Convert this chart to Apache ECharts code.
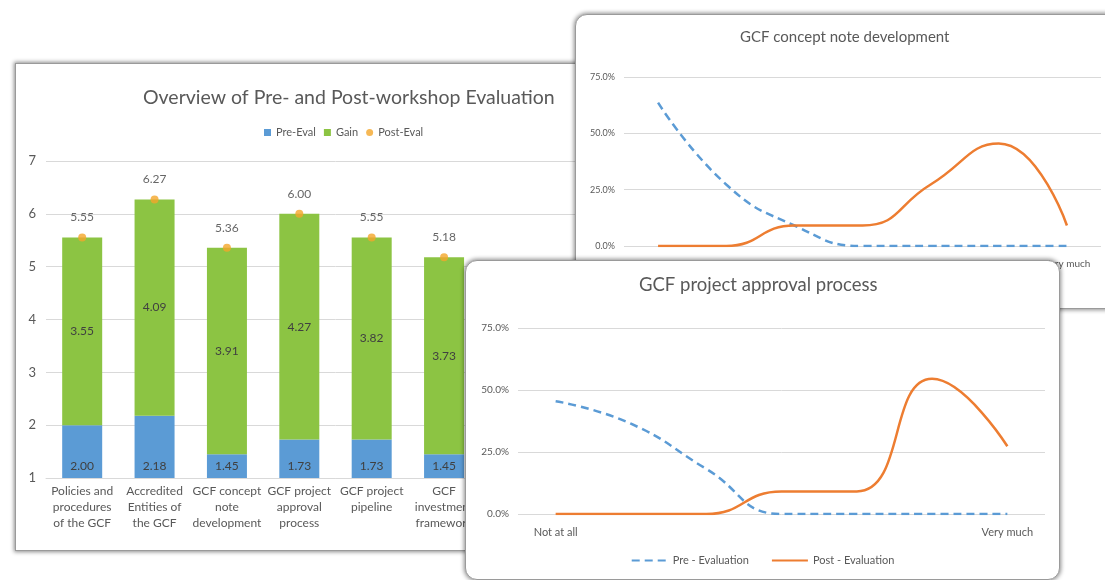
<!DOCTYPE html>
<html>
<head>
<meta charset="utf-8">
<script src="https://cdn.jsdelivr.net/npm/echarts@6/dist/echarts.min.js"></script>
<style>
  html, body { margin: 0; padding: 0; background: #fff; }
  body { width: 1105px; height: 580px; position: relative; overflow: hidden; }
  .panel {
    position: absolute;
    background: #fff;
    border: 1px solid #9a9a9a;
    box-shadow: 0 0 4px 1px rgba(0, 0, 0, 0.45);
    box-sizing: border-box;
  }
  .round { border-radius: 12px; }
</style>
</head>
<body>
<div id="bars" class="panel" style="left:15px;top:63px;width:640px;height:488px;z-index:1"></div>
<div id="concept" class="panel round" style="left:575px;top:14px;width:560px;height:295px;z-index:2"></div>
<div id="approval" class="panel round" style="left:465px;top:260px;width:595px;height:320px;z-index:3"></div>

<script>
// overview bar chart (last two slots are hidden behind the other panels)
const categories = ['Policies and\nprocedures\nof the GCF', 'Accredited\nEntities of\nthe GCF', 'GCF concept\nnote\ndevelopment',
  'GCF project\napproval\nprocess', 'GCF project\npipeline', 'GCF\ninvestment\nframework', '', '']
const preEval = [2.00, 2.18, 1.45, 1.73, 1.73, 1.45, null, null]
const gain = [3.55, 4.09, 3.91, 4.27, 3.82, 3.73, null, null]
const postEval = [5.55, 6.27, 5.36, 6.00, 5.55, 5.18, null, null]
const axisMin = 1

// rating scale, % of respondents
const scaleLabels = ['Not at all', '', '', '', '', '', 'Very much']
const conceptPre = [63.6, 27.3, 9.1, 0, 0, 0, 0]
const conceptPost = [0, 0, 9.1, 9.1, 27.3, 45.5, 9.1]
const approvalPre = [45.5, 36.4, 18.2, 0, 0, 0, 0]
const approvalPost = [0, 0, 0, 9.1, 9.1, 54.5, 27.3]

const FONT = 'Lato, "Open Sans", sans-serif'
const TXT = '#595959'
const BLUE = '#5B9BD5'
const GREEN = '#8CC443'
const ORANGE = '#ED7D31'
const DOT = '#F4A62A'

const barChart = echarts.init(document.getElementById('bars'))
barChart.setOption({
  animation: false,
  textStyle: { fontFamily: FONT },
  title: {
    text: 'Overview of Pre- and Post-workshop Evaluation',
    left: 122,
    top: 19,
    textStyle: { fontSize: 19.5, fontWeight: 'normal', color: TXT, fontFamily: FONT }
  },
  legend: {
    left: 243,
    top: 58,
    itemWidth: 7,
    itemHeight: 7,
    itemGap: 8,
    textStyle: { fontSize: 11, color: TXT, fontFamily: FONT },
    data: [
      { name: 'Pre-Eval', icon: 'rect' },
      { name: 'Gain', icon: 'rect' },
      { name: 'Post-Eval', icon: 'circle' }
    ]
  },
  grid: { left: 30, top: 97, width: 579, height: 317 },
  xAxis: {
    type: 'category',
    data: categories,
    axisTick: { show: false },
    axisLine: { lineStyle: { color: '#D9D9D9' } },
    axisLabel: { interval: 0, margin: 5, fontSize: 12, lineHeight: 16, color: TXT, fontFamily: FONT }
  },
  yAxis: {
    type: 'value',
    min: axisMin,
    max: 7,
    interval: 1,
    axisLabel: { fontSize: 13, color: TXT, margin: 10, fontFamily: FONT },
    splitLine: { lineStyle: { color: '#D9D9D9' } }
  },
  series: [
    {
      name: 'base',
      type: 'bar',
      stack: 'total',
      barWidth: 40,
      silent: true,
      itemStyle: { color: 'transparent' },
      data: preEval.map(v => (v == null ? null : axisMin))
    },
    {
      name: 'Pre-Eval',
      type: 'bar',
      stack: 'total',
      barWidth: 40,
      itemStyle: { color: BLUE },
      label: {
        show: true,
        position: 'insideBottom',
        distance: 6,
        fontSize: 12,
        color: '#404040',
        formatter: p => preEval[p.dataIndex].toFixed(2)
      },
      data: preEval.map(v => (v == null ? null : v - axisMin))
    },
    {
      name: 'Gain',
      type: 'bar',
      stack: 'total',
      barWidth: 40,
      itemStyle: { color: GREEN },
      label: {
        show: true,
        position: 'inside',
        fontSize: 12,
        color: '#404040',
        formatter: p => p.value.toFixed(2)
      },
      data: gain
    },
    {
      name: 'Post-Eval',
      type: 'scatter',
      symbol: 'circle',
      symbolSize: 8,
      z: 5,
      itemStyle: { color: DOT },
      label: {
        show: true,
        position: 'top',
        distance: 10,
        fontSize: 12,
        color: '#404040',
        formatter: p => p.value.toFixed(2)
      },
      data: postEval
    }
  ]
})

function lineOption(title, titleLeft, titleSize, grid, labelSize, pre, post, legendTop) {
  return {
    animation: false,
    textStyle: { fontFamily: FONT },
    title: {
      text: title,
      left: titleLeft,
      top: 10,
      textStyle: { fontSize: titleSize, fontWeight: 'normal', color: TXT, fontFamily: FONT }
    },
    legend: {
      left: 'center',
      top: legendTop,
      itemWidth: 36,
      itemHeight: 10,
      itemGap: 22,
      itemStyle: { opacity: 0 },
      textStyle: { fontSize: 11, color: TXT, fontFamily: FONT },
      data: ['Pre - Evaluation', 'Post - Evaluation']
    },
    grid: grid,
    xAxis: {
      type: 'category',
      data: scaleLabels,
      axisTick: { show: false },
      axisLine: { show: false },
      axisLabel: { interval: 0, margin: 13, fontSize: labelSize + 1, color: TXT, fontFamily: FONT }
    },
    yAxis: {
      type: 'value',
      min: 0,
      max: 75,
      interval: 25,
      axisLabel: { fontSize: labelSize, color: TXT, margin: 9, formatter: v => v.toFixed(1) + '%', fontFamily: FONT },
      splitLine: { lineStyle: { color: '#D9D9D9' } }
    },
    series: [
      {
        name: 'Pre - Evaluation',
        type: 'line',
        smooth: true,
        symbol: 'none',
        lineStyle: { color: BLUE, width: 2.5, type: [8, 5] },
        itemStyle: { color: BLUE },
        data: pre
      },
      {
        name: 'Post - Evaluation',
        type: 'line',
        smooth: true,
        symbol: 'none',
        lineStyle: { color: ORANGE, width: 2.5 },
        itemStyle: { color: ORANGE },
        data: post
      }
    ]
  }
}

const conceptChart = echarts.init(document.getElementById('concept'))
conceptChart.setOption(lineOption('GCF concept note development', 159, 15,
  { left: 48, top: 62, width: 477, height: 169 }, 9, conceptPre, conceptPost, 268))

const approvalChart = echarts.init(document.getElementById('approval'))
approvalChart.setOption(lineOption('GCF project approval process', 168, 18.5,
  { left: 52, top: 67, width: 527, height: 186 }, 10, approvalPre, approvalPost, 289))
</script>
</body>
</html>
